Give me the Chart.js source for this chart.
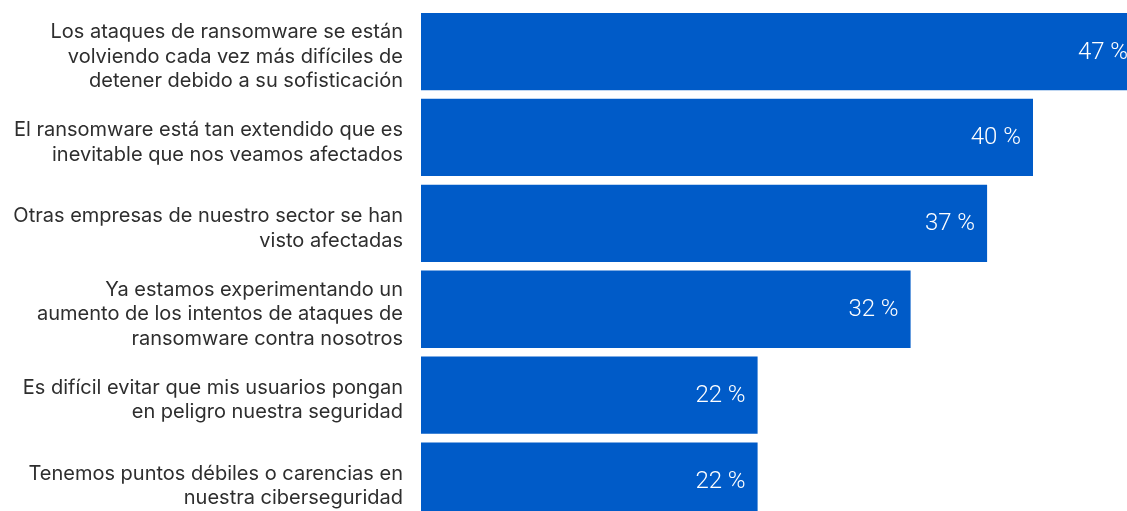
<!DOCTYPE html>
<html lang="es">
<head>
<meta charset="utf-8">
<title>Ransomware</title>
<script src="https://cdn.jsdelivr.net/npm/chart.js@4/dist/chart.umd.min.js"></script>
<style>
  html, body { margin: 0; padding: 0; background: #fff; overflow: hidden; }
  .wrap { width: 1127px; height: 511px; overflow: hidden; position: relative; }
  canvas { display: block; }
</style>
</head>
<body>
<div class="wrap">
  <canvas id="ransomChart" width="1186" height="524"></canvas>
</div>
<script>
// categories (one line per array entry)
const labels = [
  ['Los ataques de ransomware se están', 'volviendo cada vez más difíciles de', 'detener debido a su sofisticación'],
  ['El ransomware está tan extendido que es', 'inevitable que nos veamos afectados'],
  ['Otras empresas de nuestro sector se han', 'visto afectadas'],
  ['Ya estamos experimentando un', 'aumento de los intentos de ataques de', 'ransomware contra nosotros'],
  ['Es difícil evitar que mis usuarios pongan', 'en peligro nuestra seguridad'],
  ['Tenemos puntos débiles o carencias en', 'nuestra ciberseguridad']
];
const values = [47, 40, 37, 32, 22, 22];
const axisMax = 50;

const barColor = '#005bc8';

// white % text at the end of each bar
const valueLabels = {
  id: 'valueLabels',
  afterDatasetsDraw(chart) {
    const ctx = chart.ctx;
    const meta = chart.getDatasetMeta(0);
    ctx.save();
    ctx.font = '300 24px Roboto';
    ctx.fillStyle = '#ffffff';
    ctx.textAlign = 'right';
    ctx.textBaseline = 'middle';
    meta.data.forEach((bar, i) => {
      ctx.fillText(values[i] + ' %', bar.x - 12, bar.y + 1);
    });
    ctx.restore();
  }
};

new Chart(document.getElementById('ransomChart'), {
  type: 'bar',
  data: {
    labels: labels,
    datasets: [{
      data: values,
      backgroundColor: barColor,
      borderWidth: 0,
      barPercentage: 0.9,
      categoryPercentage: 1.0
    }]
  },
  options: {
    indexAxis: 'y',
    responsive: false,
    animation: false,
    layout: { padding: { top: 8.6, bottom: 0, left: 0, right: 0 } },
    plugins: {
      legend: { display: false },
      tooltip: { enabled: false }
    },
    scales: {
      x: {
        display: false,
        min: 0,
        max: axisMax
      },
      y: {
        grid: { display: false, drawTicks: false },
        border: { display: false },
        afterFit(scale) {
          // fixed label column, and no extra room for the tall first/last labels
          scale.width = 421;
          scale.paddingTop = 0;
          scale.paddingBottom = 0;
        },
        ticks: {
          padding: 18,
          labelOffset: 5,
          color: '#2e2e2e',
          font: { family: 'Inter', size: 20, weight: '400', lineHeight: 1.22 }
        }
      }
    }
  },
  plugins: [valueLabels]
});
</script>
</body>
</html>
